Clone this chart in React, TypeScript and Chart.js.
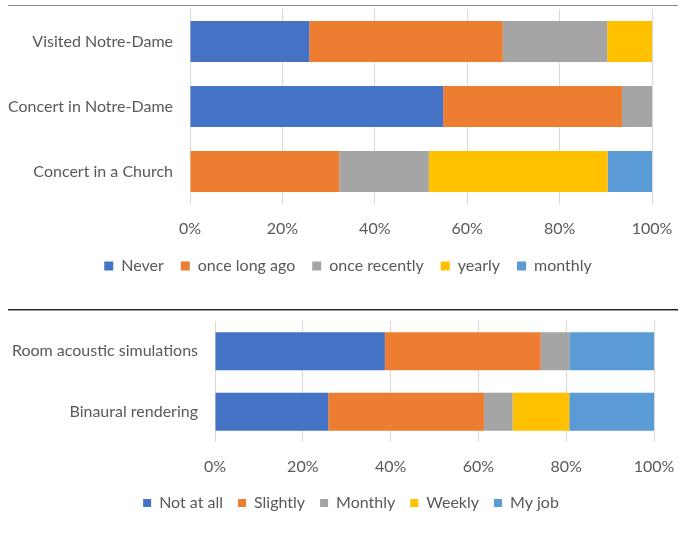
import React, { useEffect, useRef } from "react";
import { Chart, registerables } from "chart.js";

Chart.register(...registerables);

// ---------- Top chart data ----------
const topCategories = ["Visited Notre-Dame", "Concert in Notre-Dame", "Concert in a Church"];
const topSeriesNames = ["Never", "once long ago", "once recently", "yearly", "monthly"];
const never = [25.8, 54.8, 0];
const onceLongAgo = [41.9, 38.7, 32.3];
const onceRecently = [22.6, 6.5, 19.4];
const yearly = [9.7, 0, 38.7];
const monthly = [0, 0, 9.6];

// ---------- Bottom chart data ----------
const bottomCategories = ["Room acoustic simulations", "Binaural rendering"];
const bottomSeriesNames = ["Not at all", "Slightly", "Monthly", "Weekly", "My job"];
const notAtAll = [38.7, 25.8];
const slightly = [35.5, 35.5];
const monthlyUse = [6.5, 6.5];
const weekly = [0, 12.9];
const myJob = [19.3, 19.3];

const percentTicks = [0, 20, 40, 60, 80, 100];

const COLORS = ["#4472C4", "#ED7D31", "#A5A5A5", "#FFC000", "#5B9BD5"];
const TEXT = "#595959";
const GRID = "#D9D9D9";
const FONT_FAMILY = "Lato";
const FONT_SIZE = 16;

type Geom = {
  padTop: number;
  padRight: number;
  padBottom: number;
  padLeft: number;
  yWidth: number;
  xHeight: number;
  tickPad: number;
  legendBox: number;
  legendPad: number;
};

function buildConfig(labels: string[], names: string[], series: number[][], geom: Geom): any {
  const font = { family: FONT_FAMILY, size: FONT_SIZE };
  return {
    type: "bar",
    data: {
      labels,
      datasets: series.map((vals, i) => ({
        label: names[i],
        data: vals,
        backgroundColor: COLORS[i],
        borderWidth: 0,
        categoryPercentage: 1,
        barPercentage: 0.63,
      })),
    },
    options: {
      indexAxis: "y",
      responsive: false,
      animation: false,
      layout: { padding: { top: geom.padTop, right: geom.padRight, bottom: geom.padBottom, left: geom.padLeft } },
      scales: {
        x: {
          stacked: true,
          min: percentTicks[0],
          max: percentTicks[percentTicks.length - 1],
          afterBuildTicks: (scale: any) => {
            scale.ticks = percentTicks.map((v) => ({ value: v }));
          },
          ticks: {
            callback: (v: any) => v + "%",
            color: TEXT,
            font,
            padding: geom.tickPad,
            maxRotation: 0,
          },
          grid: { color: GRID, lineWidth: 1, drawTicks: false },
          border: { display: false },
          afterFit: (s: any) => {
            s.height = geom.xHeight;
            s.paddingLeft = 0;
            s.paddingRight = 0;
          },
        },
        y: {
          stacked: true,
          grid: { display: false, drawTicks: false },
          border: { display: false },
          ticks: { color: TEXT, font, padding: 17 },
          afterFit: (s: any) => {
            s.width = geom.yWidth;
            s.paddingTop = 0;
            s.paddingBottom = 0;
            // let long category labels extend beyond the axis box
            s._computeLabelArea = () => undefined;
          },
        },
      },
      plugins: {
        legend: {
          position: "bottom",
          labels: {
            boxWidth: geom.legendBox,
            boxHeight: geom.legendBox,
            color: TEXT,
            font,
            padding: geom.legendPad,
          },
        },
        tooltip: { enabled: false },
      },
    },
  };
}

function BarChart(props: {
  labels: string[];
  names: string[];
  series: number[][];
  width: number;
  height: number;
  geom: Geom;
  style: React.CSSProperties;
}) {
  const ref = useRef<HTMLCanvasElement | null>(null);
  useEffect(() => {
    if (!ref.current) return;
    const chart = new Chart(ref.current, buildConfig(props.labels, props.names, props.series, props.geom));
    return () => chart.destroy();
  }, []);
  return <canvas ref={ref} width={props.width} height={props.height} style={props.style} />;
}

export default function App() {
  return (
    <div style={{ position: "fixed", left: 0, top: 0, width: 687, height: 541, background: "#fff", overflow: "hidden" }}>
      <BarChart
        labels={topCategories}
        names={topSeriesNames}
        series={[never, onceLongAgo, onceRecently, yearly, monthly]}
        width={687}
        height={290}
        geom={{ padTop: 9, padRight: 35, padBottom: 6, padLeft: 44, yWidth: 146, xHeight: 37, tickPad: 15, legendBox: 9, legendPad: 17 }}
        style={{ position: "absolute", left: 0, top: 0, width: 687, height: 290 }}
      />
      <BarChart
        labels={bottomCategories}
        names={bottomSeriesNames}
        series={[notAtAll, slightly, monthlyUse, weekly, myJob]}
        width={687}
        height={241}
        geom={{ padTop: 21, padRight: 33, padBottom: 20, padLeft: 48, yWidth: 167, xHeight: 38, tickPad: 15, legendBox: 8, legendPad: 15 }}
        style={{ position: "absolute", left: 0, top: 300, width: 687, height: 241 }}
      />
      <div style={{ position: "absolute", left: 8, top: 5, width: 670, height: 1, background: "#8C8C8C" }} />
      <div style={{ position: "absolute", left: 8, top: 309, width: 670, height: 1, background: "#222" }} />
      <div style={{ position: "absolute", left: 8, top: 310, width: 670, height: 1, background: "#999" }} />
    </div>
  );
}
